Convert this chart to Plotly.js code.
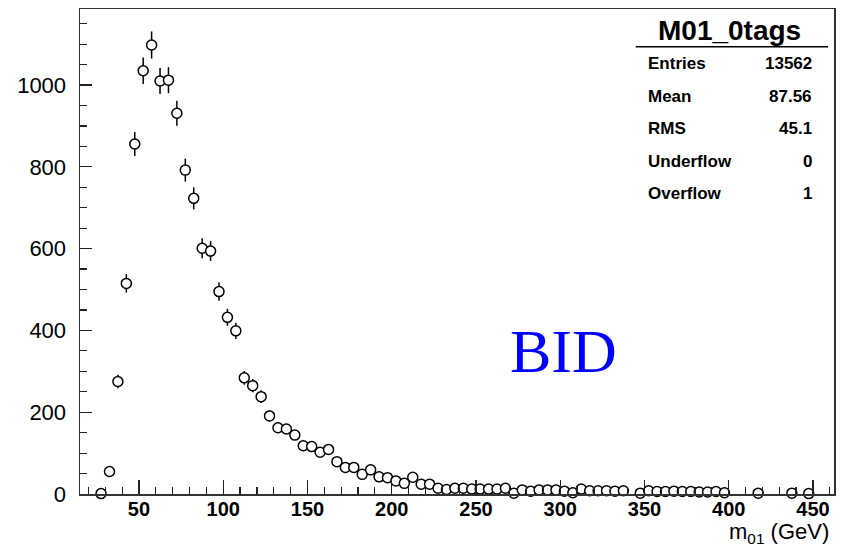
<!DOCTYPE html>
<html>
<head>
<meta charset="utf-8">
<script src="https://cdn.plot.ly/plotly-3.0.1.min.js"></script>
<style>html,body{margin:0;padding:0;background:#fff;}#chart{width:850px;height:550px;}</style>
</head>
<body>
<div id="chart"></div>
<script>
// Bin centres (GeV) of the drawn (non-empty) bins, 5 GeV wide
const binCenters = [
  27.5, 32.5, 37.5, 42.5, 47.5, 52.5, 57.5, 62.5, 67.5, 72.5,
  77.5, 82.5, 87.5, 92.5, 97.5, 102.5, 107.5, 112.5, 117.5, 122.5,
  127.5, 132.5, 137.5, 142.5, 147.5, 152.5, 157.5, 162.5, 167.5, 172.5,
  177.5, 182.5, 187.5, 192.5, 197.5, 202.5, 207.5, 212.5, 217.5, 222.5,
  227.5, 232.5, 237.5, 242.5, 247.5, 252.5, 257.5, 262.5, 267.5, 272.5,
  277.5, 282.5, 287.5, 292.5, 297.5, 302.5, 307.5, 312.5, 317.5, 322.5,
  327.5, 332.5, 337.5, 347.5, 352.5, 357.5, 362.5, 367.5, 372.5, 377.5,
  382.5, 387.5, 392.5, 397.5, 417.5, 437.5, 447.5
];
// Entries per bin
const counts = [
  1, 55, 275, 515, 856, 1035, 1098, 1010, 1012, 931,
  792, 723, 601, 594, 495, 432, 399, 284, 265, 238,
  191, 162, 159, 144, 118, 116, 102, 109, 79, 65,
  65, 48, 59, 42, 40, 32, 26, 41, 24, 24,
  14, 11, 14, 14, 12, 12, 12, 12, 14, 2,
  10, 7, 10, 10, 10, 7, 3, 12, 8, 8,
  8, 7, 8, 2, 8, 6, 6, 7, 6, 6,
  5, 5, 6, 3, 2, 2, 1
];
// Poisson errors (sqrt N), as drawn by the histogram
const errors = counts.map(v => Math.sqrt(v));

const histName = "M01_0tags";
const statLabels = ["Entries", "Mean", "RMS", "Underflow", "Overflow"];
const statValues = ["13562", "87.56", "45.1", "0", "1"];
const xTickVals = [50, 100, 150, 200, 250, 300, 350, 400, 450];
const yTickVals = [0, 200, 400, 600, 800, 1000];
const xTitle = "m<sub>01</sub> (GeV)";
const tagText = "BID";

const trace = {
  type: "scatter",
  mode: "markers",
  x: binCenters,
  y: counts,
  cliponaxis: false,
  marker: {symbol: "circle", size: 10, color: "#ffffff", line: {color: "#000000", width: 1.5}},
  error_y: {type: "data", array: errors, visible: true, width: 0, thickness: 1.5, color: "#000000"},
  hoverinfo: "x+y"
};

const sans = "Liberation Sans, Arial, Helvetica, sans-serif";
const annotations = [];
annotations.push({xref: "paper", yref: "paper", x: 0.862, y: 0.955, xanchor: "center", yanchor: "middle",
  text: "<b>" + histName + "</b>", showarrow: false, font: {family: sans, size: 28, color: "#000"}});
const rowY = [0.887, 0.819, 0.753, 0.686, 0.619];
statLabels.forEach((lab, i) => {
  annotations.push({xref: "paper", yref: "paper", x: 0.751, y: rowY[i], xanchor: "left", yanchor: "middle",
    text: "<b>" + lab + "</b>", showarrow: false, font: {family: sans, size: 17, color: "#000"}});
  annotations.push({xref: "paper", yref: "paper", x: 0.973, y: rowY[i], xanchor: "right", yanchor: "middle",
    text: "<b>" + statValues[i] + "</b>", showarrow: false, font: {family: sans, size: 17, color: "#000"}});
});
annotations.push({xref: "paper", yref: "paper", x: 0.995, y: -0.111, xanchor: "right", yanchor: "bottom",
  text: xTitle, showarrow: false, borderpad: 0, font: {family: sans, size: 22, color: "#000"}});
annotations.push({xref: "paper", yref: "paper", x: 0.641, y: 0.295, xanchor: "center", yanchor: "middle",
  text: tagText, showarrow: false, font: {family: "Liberation Serif, Times New Roman, serif", size: 62, color: "#0000ff"}});

const layout = {
  width: 850, height: 550,
  margin: {l: 80, r: 16, t: 9, b: 56, pad: 0},
  paper_bgcolor: "#ffffff", plot_bgcolor: "#ffffff",
  showlegend: false,
  xaxis: {
    range: [15, 462.5], showgrid: false, zeroline: false,
    showline: true, mirror: true, linecolor: "#333", linewidth: 1.5,
    ticks: "inside", ticklen: 14, tickwidth: 1.2, tickcolor: "#222",
    tickmode: "array", tickvals: xTickVals, ticklabelstandoff: -4,
    tickfont: {family: sans, size: 20, color: "#000", weight: "bold"},
    minor: {dtick: 10, tick0: 0, ticks: "inside", ticklen: 7, tickwidth: 1.2, tickcolor: "#222", showgrid: false}
  },
  yaxis: {
    range: [0, 1186], showgrid: false, zeroline: false,
    showline: true, mirror: true, linecolor: "#333", linewidth: 1.5,
    ticks: "inside", ticklen: 12, tickwidth: 1.2, tickcolor: "#222",
    tickmode: "array", tickvals: yTickVals, ticklabelstandoff: 8,
    tickfont: {family: sans, size: 22, color: "#000"},
    minor: {dtick: 50, tick0: 0, ticks: "inside", ticklen: 7, tickwidth: 1.2, tickcolor: "#222", showgrid: false}
  },
  shapes: [
    {type: "line", xref: "paper", yref: "paper", x0: 0.737, x1: 0.992, y0: 0.922, y1: 0.922,
     line: {color: "#000", width: 1.5}}
  ],
  annotations: annotations
};

Plotly.newPlot("chart", [trace], layout, {displayModeBar: false, staticPlot: true});
</script>
</body>
</html>
